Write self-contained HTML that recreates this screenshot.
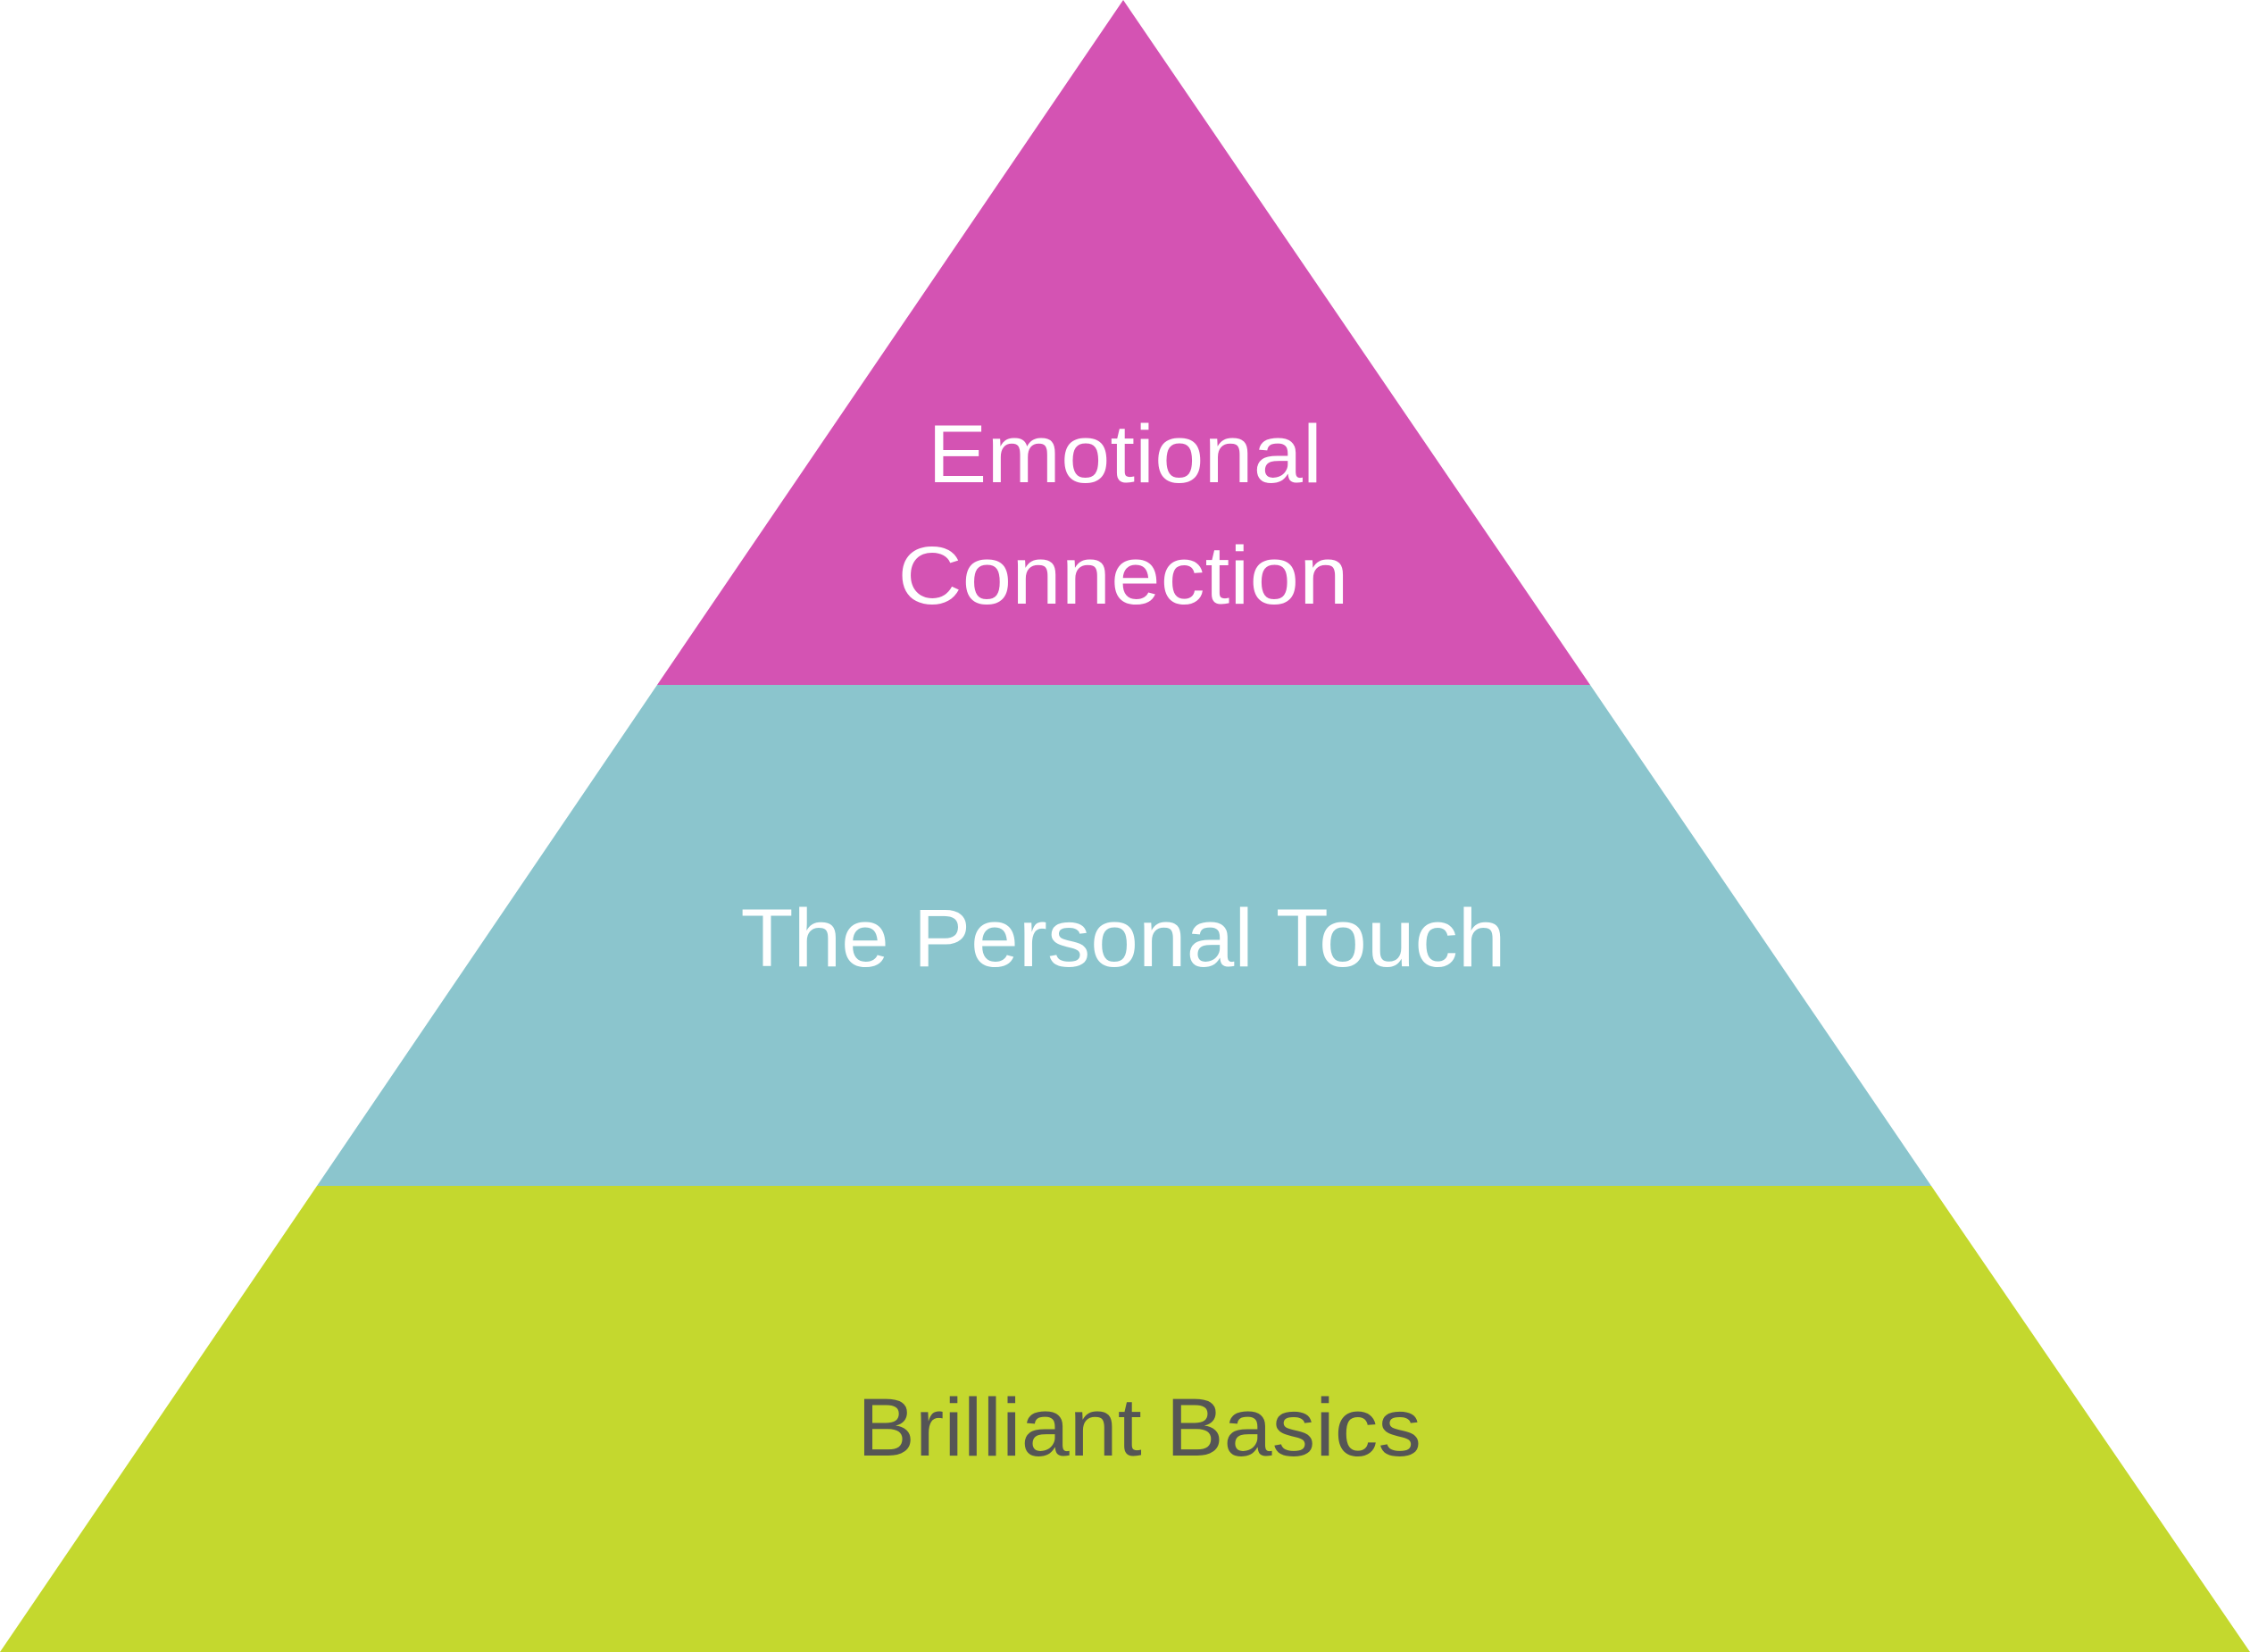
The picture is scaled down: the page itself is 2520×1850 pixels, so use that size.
<!DOCTYPE html>
<html>
<head>
<meta charset="utf-8">
<style>
html,body{margin:0;padding:0;background:#fff;}
svg{display:block;}
text{font-family:"Liberation Sans",sans-serif;font-size:92px;}
</style>
</head>
<body>
<svg width="2520" height="1850" viewBox="0 0 2520 1850" xmlns="http://www.w3.org/2000/svg">
<polygon points="1258,0 1781,767 736,767" fill="#D453B3"/>
<polygon points="736,767 1781,767 2163,1328 355,1328" fill="#8BC5CD"/>
<polygon points="355,1328 2163,1328 2520,1850 0,1850" fill="#C4D82E"/>
<text x="1260" y="540" text-anchor="middle" fill="#fff" textLength="442" lengthAdjust="spacingAndGlyphs">Emotional</text>
<text x="1258" y="676" text-anchor="middle" fill="#fff" textLength="505" lengthAdjust="spacingAndGlyphs">Connection</text>
<text x="1258" y="1082" text-anchor="middle" fill="#fff" textLength="857" lengthAdjust="spacingAndGlyphs">The Personal Touch</text>
<text x="1276" y="1630" text-anchor="middle" fill="#555555" textLength="632" lengthAdjust="spacingAndGlyphs">Brilliant Basics</text>
</svg>
</body>
</html>
